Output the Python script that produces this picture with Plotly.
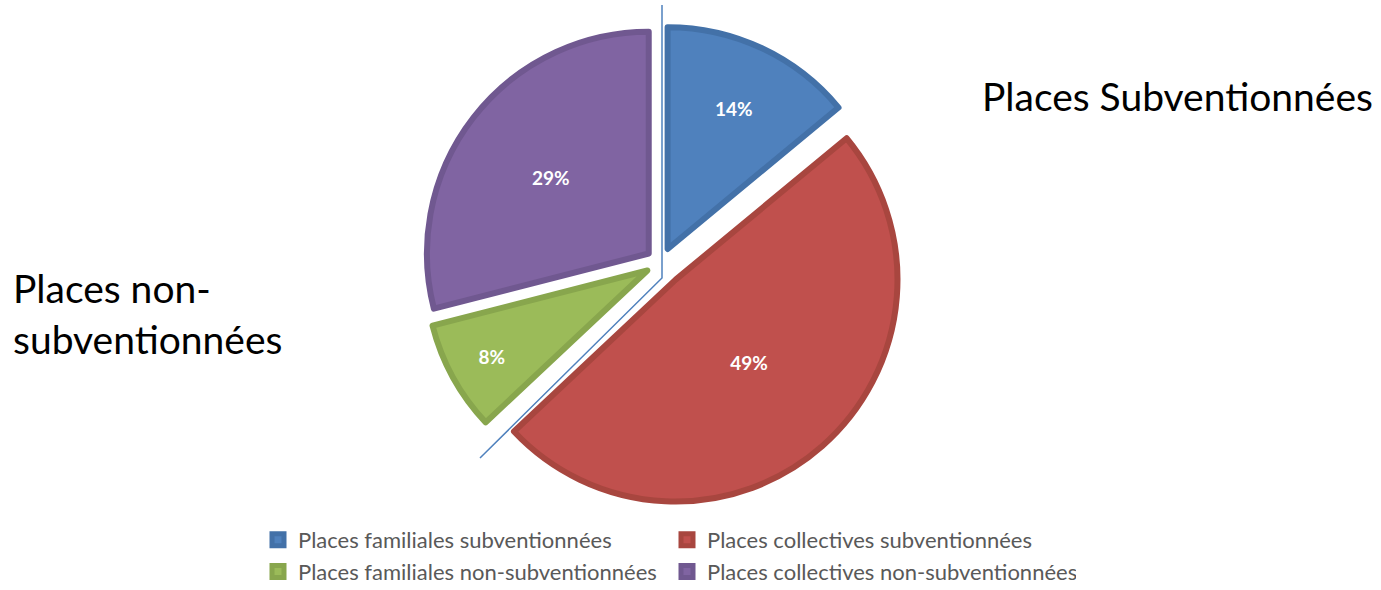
import plotly.graph_objects as go

# ---- data ----
labels = [
    "Places familiales subventionnées",
    "Places collectives subventionnées",
    "Places familiales non-subventionnées",
    "Places collectives non-subventionnées",
]
values = [14, 49, 8, 29]
colors = ["#4F81BD", "#C0504D", "#9BBB59", "#8064A2"]
border_colors = ["#4371A8", "#A8463F", "#88A64D", "#705890"]
pulls = [0.07, 0.1, 0.07, 0.07]

W, H = 1381, 590
L, R = 240, 240          # fixed margins: plot area width limits the legend to 2 columns
GW = W - L - R


def px_x(x):
    return (x - L) / GW


def px_y(y):
    return 1 - y / H


cx, cy, half = 661, 263, 244

fig = go.Figure(
    go.Pie(
        labels=labels,
        values=values,
        sort=False,
        direction="clockwise",
        rotation=0,
        pull=pulls,
        marker=dict(colors=colors, line=dict(color=border_colors, width=6)),
        textinfo="percent",
        texttemplate="%{percent:.0%}",
        textposition="inside",
        insidetextorientation="horizontal",
        textfont=dict(family="Lato", size=19, color="white", weight="bold"),
        domain=dict(x=[px_x(cx - half), px_x(cx + half)],
                    y=[px_y(cy + half), px_y(cy - half)]),
        hoverinfo="label+percent",
    )
)

fig.add_shape(
    type="path",
    path=f"M {px_x(662)} {px_y(5)} L {px_x(662)} {px_y(278)} L {px_x(480)} {px_y(458)}",
    xref="paper", yref="paper",
    line=dict(color="#4F81BD", width=1.5),
)

fig.add_annotation(
    text="Places Subventionnées", xref="paper", yref="paper",
    x=px_x(980), y=px_y(96), xanchor="left", yanchor="middle",
    showarrow=False, font=dict(family="Lato", size=39, color="black"),
)
fig.add_annotation(
    text="Places non-<br>subventionnées", xref="paper", yref="paper",
    x=px_x(11), y=px_y(313), xanchor="left", yanchor="middle", align="left",
    showarrow=False, font=dict(family="Lato", size=39, color="black"),
)

fig.update_layout(
    width=W, height=H,
    margin=dict(l=L, r=R, t=0, b=0, autoexpand=False),
    paper_bgcolor="white",
    plot_bgcolor="white",
    showlegend=True,
    legend=dict(
        orientation="h",
        x=px_x(258), y=px_y(519), xanchor="left", yanchor="top",
        entrywidth=364, entrywidthmode="pixels",
        font=dict(family="Lato", size=22, color="#595959"),
        itemclick=False,
    ),
)

fig.write_html("out.html", config={"displayModeBar": False},
               post_script="document.body.style.margin='0';")
